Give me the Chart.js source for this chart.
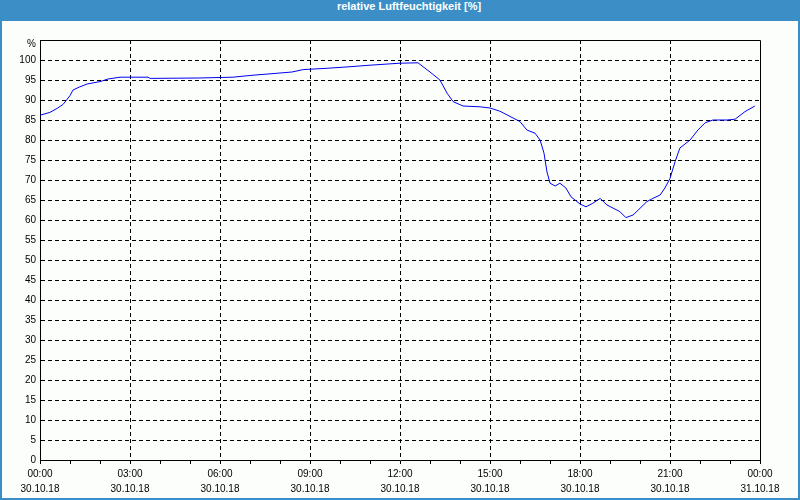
<!DOCTYPE html>
<html>
<head>
<meta charset="utf-8">
<script src="https://cdn.jsdelivr.net/npm/chart.js@4"></script>
<style>
    html, body { margin: 0; padding: 0; width: 800px; height: 500px; overflow: hidden; }
    #frame { position: absolute; left: 0; top: 0; width: 800px; height: 500px; background: #3c8fc6; }
    #title { position: absolute; left: 0; top: 0; width: 800px; height: 21px; line-height: 19px;
             color: #fff; font: bold 11px "Liberation Sans", Arial, sans-serif; text-align: center;
             padding-left: 18px; box-sizing: border-box; }
    #inner { position: absolute; left: 2px; top: 21px; width: 796px; height: 477px; background: #fcfefc; }
    #wrap { position: absolute; left: 0; top: 0; width: 800px; height: 500px; }
</style>
</head>
<body>
<div id="frame">
    <div id="title">relative Luftfeuchtigkeit [%]</div>
    <div id="inner"></div>
</div>
<div id="wrap"><canvas id="humChart" width="800" height="500"></canvas></div>
<script>
// Stunden seit 30.10.18 00:00
const hours = [
    0, 0.33, 0.57, 0.77, 1.0, 1.1, 1.33, 1.57, 2.0, 2.27, 2.67, 3.6, 3.67, 5.27, 6.43,
    7.1, 7.6, 8.4, 8.77, 9.5, 10.3, 11.0, 12.0, 12.6, 13.0, 13.33, 13.57, 13.77, 14.1, 14.67,
    15.0, 15.33, 16.0, 16.23, 16.5, 16.67, 16.8, 16.9, 17.0, 17.17, 17.33, 17.53, 17.7,
    18.0, 18.2, 18.43, 18.67, 18.9, 19.33, 19.53, 19.77, 20.23, 20.43, 20.67, 20.83,
    21.0, 21.17, 21.33, 21.67, 21.93, 22.17, 22.43, 22.9, 23.17, 23.5, 23.83
];
const humidity = [
    86.2, 86.9, 87.9, 88.9, 91.1, 92.5, 93.3, 94.0, 94.6, 95.25, 95.7, 95.7, 95.4, 95.5, 95.7,
    96.2, 96.5, 97.0, 97.6, 97.9, 98.3, 98.7, 99.2, 99.3, 97.0, 95.0, 91.7, 89.6, 88.5, 88.3,
    88.0, 87.2, 84.6, 82.5, 81.7, 80.0, 76.7, 72.0, 69.2, 68.5, 69.2, 68.0, 65.8,
    64.0, 63.3, 64.2, 65.4, 63.75, 62.1, 60.6, 61.25, 64.6, 65.4, 66.25, 68.0,
    70.4, 74.6, 78.0, 80.0, 82.5, 84.3, 85.0, 85.0, 85.2, 87.1, 88.5
];

const timeLabels = { 0: '00:00', 3: '03:00', 6: '06:00', 9: '09:00', 12: '12:00',
                     15: '15:00', 18: '18:00', 21: '21:00', 24: '00:00' };
const dateLabels = { 0: '30.10.18', 3: '30.10.18', 6: '30.10.18', 9: '30.10.18', 12: '30.10.18',
                     15: '30.10.18', 18: '30.10.18', 21: '30.10.18', 24: '31.10.18' };
const yUnitLabel = '%';

const fontFamily = '"Liberation Sans", Arial, sans-serif';
const tickFont = { family: fontFamily, size: 10, lineHeight: 1.45 };

// Rahmen oben und rechts um die Zeichenfläche
const plotFrame = {
    id: 'plotFrame',
    afterDraw(chart) {
        const { ctx, chartArea: a } = chart;
        ctx.save();
        ctx.strokeStyle = '#000';
        ctx.lineWidth = 1;
        ctx.beginPath();
        ctx.moveTo(a.left, a.top + 0.5);
        ctx.lineTo(a.right + 0.5, a.top + 0.5);
        ctx.lineTo(a.right + 0.5, a.bottom);
        ctx.stroke();
        ctx.restore();
    }
};

const chart = new Chart(document.getElementById('humChart').getContext('2d'), {
    type: 'line',
    data: {
        datasets: [{
            data: hours.map((h, i) => ({ x: h, y: humidity[i] })),
            borderColor: '#0000f0',
            borderWidth: 1,
            pointRadius: 0,
            tension: 0,
            fill: false
        }]
    },
    options: {
        responsive: false,
        animation: false,
        layout: { padding: { left: 0, top: 40, right: 40, bottom: 0 } },
        plugins: { legend: { display: false }, tooltip: { enabled: false }, title: { display: false } },
        scales: {
            x: {
                type: 'linear',
                min: 0,
                max: 24,
                afterFit: s => { s.height = 40; },
                ticks: {
                    stepSize: 1,
                    autoSkip: false,
                    maxRotation: 0,
                    color: '#000',
                    font: tickFont,
                    padding: 3,
                    callback: v => (v % 3 === 0 ? [timeLabels[v], dateLabels[v]] : '')
                },
                grid: {
                    color: c => (c.tick && c.tick.value % 3 === 0 && c.tick.value > 0 && c.tick.value < 24 ? '#000' : 'rgba(0,0,0,0)'),
                    tickColor: '#000',
                    tickLength: 4,
                    lineWidth: 1
                },
                border: { color: '#000', width: 1, dash: [4, 3] }
            },
            y: {
                min: 0,
                max: 105,
                afterFit: s => { s.width = 40; },
                ticks: {
                    stepSize: 5,
                    color: '#000',
                    // das %-Zeichen sitzt etwas unter der oberen Kante
                    font: c => (c.tick && c.tick.value === 105
                        ? { family: fontFamily, size: 10, lineHeight: '8px' }
                        : tickFont),
                    padding: 4,
                    callback: v => (v === 105 ? ['', yUnitLabel] : v)
                },
                grid: {
                    drawTicks: false,
                    color: c => (c.tick && c.tick.value > 0 && c.tick.value < 105 ? '#000' : 'rgba(0,0,0,0)'),
                    lineWidth: 1
                },
                border: { color: '#000', width: 1, dash: [4, 3] }
            }
        }
    },
    plugins: [plotFrame]
});
</script>
</body>
</html>
